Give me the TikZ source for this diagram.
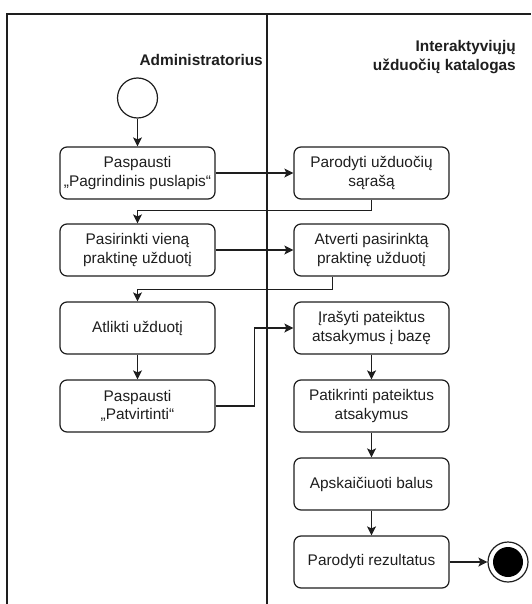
\documentclass[tikz,border=0pt]{standalone}
\usepackage{fontspec}
\setmainfont{Liberation Sans}
\usetikzlibrary{arrows.meta,calc}
\definecolor{ink}{HTML}{1E1E1E}
\tikzset{
  act/.style={draw=ink, line width=1.2pt, rounded corners=7pt, fill=white,
    minimum width=155pt, minimum height=52pt, inner sep=0pt,
    align=center, text=ink, font=\fontsize{15.4}{18.5}\selectfont},
  lane/.style={draw=ink, line width=1.3pt},
  lanetitle/.style={anchor=east, align=right, text=ink, inner sep=0pt,
    font=\fontsize{15.4}{18.5}\selectfont\bfseries},
  flow/.style={draw=ink, line width=1.2pt,
    -{Stealth[length=9pt,width=9pt,inset=2pt]}},
}
\begin{document}
\begin{tikzpicture}[x=1pt,y=-1pt]
\useasboundingbox (0,0) rectangle (531,604);
% swimlane frame
\draw[lane] (7,604) -- (7,14) -- (531,14);
\draw[lane] (267,14) -- (267,604);
\node[lanetitle] (admin) at (263,60) {Administratorius};
\node[lanetitle] (katalog) at (516,57) {Interaktyviųjų\\užduočių katalogas};
% start / end states
\node[draw=ink, line width=1.2pt, circle, minimum size=40pt, inner sep=0pt, fill=white] (start) at (137.5,98) {};
\node[draw=ink, line width=1.2pt, circle, minimum size=40pt, inner sep=0pt, fill=white] (end) at (508,562) {};
\node[circle, fill=black, minimum size=30pt, inner sep=0pt] (endin) at (end) {};
% activities
\node[act] (l1) at (137.5,173) {Paspausti\\„Pagrindinis puslapis“};
\node[act] (l2) at (137.5,250) {Pasirinkti vieną\\praktinę užduotį};
\node[act] (l3) at (137.5,328) {Atlikti užduotį};
\node[act] (l4) at (137.5,406) {Paspausti\\„Patvirtinti“};
\node[act] (r1) at (371.5,173) {Parodyti užduočių\\sąrašą};
\node[act] (r2) at (371.5,250) {Atverti pasirinktą\\praktinę užduotį};
\node[act] (r3) at (371.5,328) {Įrašyti pateiktus\\atsakymus į bazę};
\node[act] (r4) at (371.5,406) {Patikrinti pateiktus\\atsakymus};
\node[act] (r5) at (371.5,484) {Apskaičiuoti balus};
\node[act] (r6) at (371.5,562) {Parodyti rezultatus};
% control flow
\draw[flow] (start) -- (l1);
\draw[flow] (l1) -- (r1);
\draw[flow] (r1.south) -- ++(0,11) -| (l2.north);
\draw[flow] (l2) -- (r2);
\draw[flow] ($(r2.south west)!0.25!(r2.south east)$) -- ++(0,13) -| (l3.north);
\draw[flow] (l3) -- (l4);
\draw[flow] (l4.east) -- ++(39,0) |- (r3.west);
\draw[flow] (r3) -- (r4);
\draw[flow] (r4) -- (r5);
\draw[flow] (r5) -- (r6);
\draw[flow] (r6) -- (end);
\end{tikzpicture}
\end{document}
